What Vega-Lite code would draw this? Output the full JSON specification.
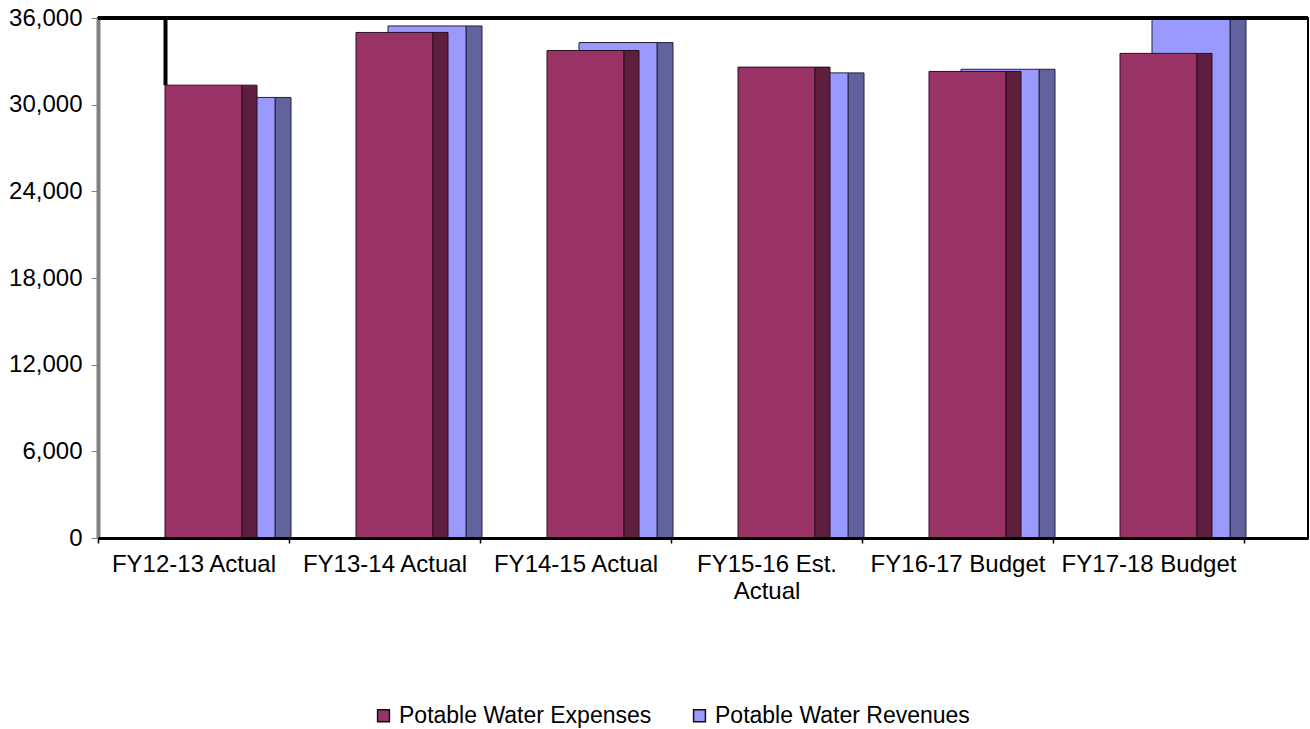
{
  "$schema": "https://vega.github.io/schema/vega-lite/v6.json",
  "width": 1210,
  "height": 520,
  "autosize": {"type": "none"},
  "padding": {"left": 98, "top": 18, "right": 2, "bottom": 191},
  "background": "white",
  "config": {
    "font": "Liberation Sans",
    "view": {"stroke": "black", "strokeWidth": 2}
  },
  "data": {
    "values": [
      {"category": "FY12-13 Actual", "series": "Potable Water Expenses", "value": 31350},
      {"category": "FY12-13 Actual", "series": "Potable Water Revenues", "value": 30500},
      {"category": "FY13-14 Actual", "series": "Potable Water Expenses", "value": 35000},
      {"category": "FY13-14 Actual", "series": "Potable Water Revenues", "value": 35450},
      {"category": "FY14-15 Actual", "series": "Potable Water Expenses", "value": 33750},
      {"category": "FY14-15 Actual", "series": "Potable Water Revenues", "value": 34300},
      {"category": "FY15-16 Est. Actual", "series": "Potable Water Expenses", "value": 32600},
      {"category": "FY15-16 Est. Actual", "series": "Potable Water Revenues", "value": 32200},
      {"category": "FY16-17 Budget", "series": "Potable Water Expenses", "value": 32300},
      {"category": "FY16-17 Budget", "series": "Potable Water Revenues", "value": 32450},
      {"category": "FY17-18 Budget", "series": "Potable Water Expenses", "value": 33550},
      {"category": "FY17-18 Budget", "series": "Potable Water Revenues", "value": 36800}
    ]
  },
  "layer": [
    {
      "transform": [{"filter": "datum.series == 'Potable Water Revenues'"}],
      "mark": {"type": "bar", "width": 16, "xOffset": 89.5, "fill": "#62629f", "stroke": "#22223a", "strokeWidth": 1, "clip": true},
      "encoding": {
        "x": {
          "field": "category", "type": "nominal", "sort": null,
          "scale": {"paddingInner": 0, "paddingOuter": 0.1675, "align": 0},
          "axis": {
            "title": null, "zindex": 1, "labelAngle": 0,
            "domainColor": "black", "domainWidth": 3,
            "tickColor": "black", "tickSize": 5, "tickWidth": 1.5, "tickBand": "extent",
            "labelFontSize": 24, "labelColor": "black", "labelPadding": 9, "labelLineHeight": 27,
            "labelLimit": 0,
            "labelExpr": "datum.label == 'FY15-16 Est. Actual' ? ['FY15-16 Est.', 'Actual'] : datum.label"
          }
        },
        "y": {
          "field": "value", "type": "quantitative",
          "scale": {"domain": [0, 36000], "nice": false},
          "axis": {
            "title": null, "grid": false,
            "values": [0, 6000, 12000, 18000, 24000, 30000, 36000], "format": ",d",
            "domainColor": "#808080", "domainWidth": 4,
            "tickColor": "#808080", "tickSize": 7, "tickWidth": 1,
            "labelFontSize": 24, "labelColor": "black", "labelPadding": 9
          }
        }
      }
    },
    {
      "transform": [{"filter": "datum.series == 'Potable Water Revenues'"}],
      "mark": {"type": "bar", "width": 78, "xOffset": 42.5, "stroke": "#22223a", "strokeWidth": 1, "opacity": 1, "clip": true},
      "encoding": {
        "x": {"field": "category", "type": "nominal", "sort": null},
        "y": {"field": "value", "type": "quantitative"},
        "color": {
          "field": "series", "type": "nominal",
          "scale": {"domain": ["Potable Water Expenses", "Potable Water Revenues"], "range": ["#993366", "#9999ff"]},
          "legend": {
            "title": null, "orient": "none", "direction": "horizontal",
            "legendX": 274, "legendY": 686,
            "symbolType": "square", "symbolSize": 140,
            "symbolStrokeColor": "#111111", "symbolStrokeWidth": 1.5,
            "labelFontSize": 23, "labelColor": "black", "labelOffset": 4, "labelLimit": 0,
            "columnPadding": 36
          }
        }
      }
    },
    {
      "transform": [{"filter": "datum.series == 'Potable Water Expenses'"}],
      "mark": {"type": "bar", "width": 77, "xOffset": 10, "stroke": "#2a0f1e", "strokeWidth": 1, "opacity": 1, "clip": true},
      "encoding": {
        "x": {"field": "category", "type": "nominal", "sort": null},
        "y": {"field": "value", "type": "quantitative"},
        "color": {"field": "series", "type": "nominal"}
      }
    },
    {
      "transform": [{"filter": "datum.series == 'Potable Water Expenses'"}],
      "mark": {"type": "bar", "width": 15, "xOffset": 56, "fill": "#5e1f3f", "stroke": "#2a0f1e", "strokeWidth": 1, "clip": true},
      "encoding": {
        "x": {"field": "category", "type": "nominal", "sort": null},
        "y": {"field": "value", "type": "quantitative"}
      }
    },
    {
      "transform": [{"filter": "datum.series == 'Potable Water Expenses' && datum.category == 'FY12-13 Actual'"}],
      "mark": {"type": "rule", "xOffset": -28, "color": "black", "strokeWidth": 4},
      "encoding": {
        "x": {"field": "category", "type": "nominal", "sort": null},
        "y": {"field": "value", "type": "quantitative"},
        "y2": {"datum": 36000}
      }
    },
    {
      "mark": {"type": "rule", "color": "black", "strokeWidth": 4},
      "encoding": {
        "y": {"datum": 36000, "type": "quantitative"}
      }
    }
  ]
}
